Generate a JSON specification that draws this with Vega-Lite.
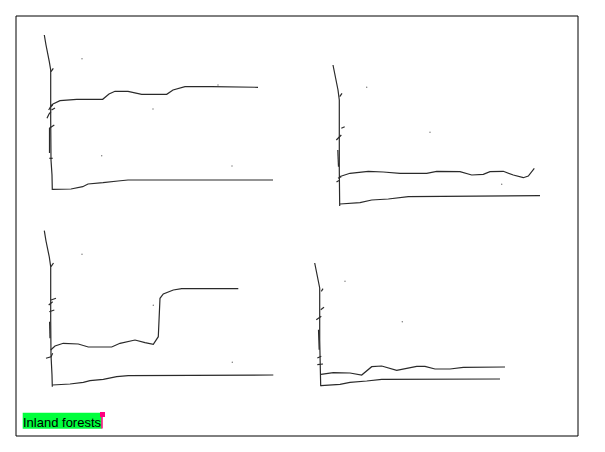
{
  "$schema": "https://vega.github.io/schema/vega-lite/v6.json",
  "width": 605,
  "height": 452,
  "autosize": {"type": "fit", "contains": "padding"},
  "padding": 0,
  "background": "white",
  "config": {"view": {"stroke": null}},
  "datasets": {
    "lines": [
      {"s": "p1v", "o": 1, "x": 44.3, "y": 35}, {"s": "p1v", "o": 2, "x": 46, "y": 45}, {"s": "p1v", "o": 3, "x": 49.3, "y": 61.7}, {"s": "p1v", "o": 4, "x": 50.7, "y": 70}, {"s": "p1v", "o": 5, "x": 50.7, "y": 120}, {"s": "p1v", "o": 6, "x": 51, "y": 160}, {"s": "p1v", "o": 7, "x": 52, "y": 175}, {"s": "p1v", "o": 8, "x": 52.3, "y": 190},
      {"s": "p1b", "o": 1, "x": 52.3, "y": 189.3}, {"s": "p1b", "o": 2, "x": 71, "y": 189}, {"s": "p1b", "o": 3, "x": 82.7, "y": 186.7}, {"s": "p1b", "o": 4, "x": 88, "y": 184}, {"s": "p1b", "o": 5, "x": 103, "y": 182.7}, {"s": "p1b", "o": 6, "x": 118, "y": 181}, {"s": "p1b", "o": 7, "x": 128, "y": 180}, {"s": "p1b", "o": 8, "x": 273, "y": 180},
      {"s": "p1u", "o": 1, "x": 50.7, "y": 106}, {"s": "p1u", "o": 2, "x": 53, "y": 104}, {"s": "p1u", "o": 3, "x": 60, "y": 100.7}, {"s": "p1u", "o": 4, "x": 76.7, "y": 99.3}, {"s": "p1u", "o": 5, "x": 102.7, "y": 99.3}, {"s": "p1u", "o": 6, "x": 109, "y": 94}, {"s": "p1u", "o": 7, "x": 115, "y": 91.3}, {"s": "p1u", "o": 8, "x": 128, "y": 91.3}, {"s": "p1u", "o": 9, "x": 141.7, "y": 94.3}, {"s": "p1u", "o": 10, "x": 166.7, "y": 94.3}, {"s": "p1u", "o": 11, "x": 173, "y": 90}, {"s": "p1u", "o": 12, "x": 185, "y": 86.7}, {"s": "p1u", "o": 13, "x": 211.7, "y": 86.7}, {"s": "p1u", "o": 14, "x": 258, "y": 87.3},
      {"s": "p1t1", "o": 1, "x": 51, "y": 71.7}, {"s": "p1t1", "o": 2, "x": 53.3, "y": 68.3},
      {"s": "p1t2", "o": 1, "x": 48.7, "y": 110}, {"s": "p1t2", "o": 2, "x": 50.5, "y": 107}, {"s": "p1t2", "o": 3, "x": 52.7, "y": 105},
      {"s": "p1t3", "o": 1, "x": 47, "y": 118.3}, {"s": "p1t3", "o": 2, "x": 49, "y": 114}, {"s": "p1t3", "o": 3, "x": 51, "y": 111.7},
      {"s": "p1t4", "o": 1, "x": 49.3, "y": 128.3}, {"s": "p1t4", "o": 2, "x": 54.3, "y": 125},
      {"s": "p1t5", "o": 1, "x": 49.5, "y": 128}, {"s": "p1t5", "o": 2, "x": 49.5, "y": 153},
      {"s": "p1t6", "o": 1, "x": 49.3, "y": 158.3}, {"s": "p1t6", "o": 2, "x": 52.7, "y": 158.3},
      {"s": "p1t7", "o": 1, "x": 51.5, "y": 110}, {"s": "p1t7", "o": 2, "x": 55, "y": 108},

      {"s": "p2v", "o": 1, "x": 333, "y": 65}, {"s": "p2v", "o": 2, "x": 338, "y": 90}, {"s": "p2v", "o": 3, "x": 339.3, "y": 100}, {"s": "p2v", "o": 4, "x": 339.3, "y": 170}, {"s": "p2v", "o": 5, "x": 339.7, "y": 206},
      {"s": "p2b", "o": 1, "x": 340, "y": 204}, {"s": "p2b", "o": 2, "x": 360, "y": 202.7}, {"s": "p2b", "o": 3, "x": 371.7, "y": 200}, {"s": "p2b", "o": 4, "x": 388.3, "y": 199}, {"s": "p2b", "o": 5, "x": 408.3, "y": 196.7}, {"s": "p2b", "o": 6, "x": 540, "y": 195.7},
      {"s": "p2u", "o": 1, "x": 339.3, "y": 176.7}, {"s": "p2u", "o": 2, "x": 350, "y": 173.3}, {"s": "p2u", "o": 3, "x": 368.3, "y": 171.3}, {"s": "p2u", "o": 4, "x": 383.3, "y": 172}, {"s": "p2u", "o": 5, "x": 400, "y": 173.3}, {"s": "p2u", "o": 6, "x": 426.7, "y": 173.3}, {"s": "p2u", "o": 7, "x": 436.7, "y": 171.3}, {"s": "p2u", "o": 8, "x": 460, "y": 171.7}, {"s": "p2u", "o": 9, "x": 471.7, "y": 175}, {"s": "p2u", "o": 10, "x": 483.3, "y": 174.3}, {"s": "p2u", "o": 11, "x": 490, "y": 171.7}, {"s": "p2u", "o": 12, "x": 503.3, "y": 171.3}, {"s": "p2u", "o": 13, "x": 513.3, "y": 175}, {"s": "p2u", "o": 14, "x": 523.3, "y": 177.7}, {"s": "p2u", "o": 15, "x": 528.3, "y": 176}, {"s": "p2u", "o": 16, "x": 534.3, "y": 168.3},
      {"s": "p2t1", "o": 1, "x": 339.7, "y": 96.7}, {"s": "p2t1", "o": 2, "x": 342, "y": 93.3},
      {"s": "p2t2", "o": 1, "x": 341.3, "y": 128.3}, {"s": "p2t2", "o": 2, "x": 344.7, "y": 126.7},
      {"s": "p2t3", "o": 1, "x": 336.3, "y": 140}, {"s": "p2t3", "o": 2, "x": 341.3, "y": 135},
      {"s": "p2t4", "o": 1, "x": 337.8, "y": 150}, {"s": "p2t4", "o": 2, "x": 338.5, "y": 166.7},
      {"s": "p2t5", "o": 1, "x": 338, "y": 178.3}, {"s": "p2t5", "o": 2, "x": 341.3, "y": 176.7},
      {"s": "p2t6", "o": 1, "x": 336.5, "y": 182}, {"s": "p2t6", "o": 2, "x": 339, "y": 180.5},

      {"s": "p3v", "o": 1, "x": 44.3, "y": 230.7}, {"s": "p3v", "o": 2, "x": 46, "y": 241}, {"s": "p3v", "o": 3, "x": 49.3, "y": 257}, {"s": "p3v", "o": 4, "x": 50.7, "y": 266.7}, {"s": "p3v", "o": 5, "x": 50.7, "y": 320}, {"s": "p3v", "o": 6, "x": 51, "y": 355}, {"s": "p3v", "o": 7, "x": 52, "y": 375}, {"s": "p3v", "o": 8, "x": 52.3, "y": 386.7},
      {"s": "p3b", "o": 1, "x": 52.3, "y": 385}, {"s": "p3b", "o": 2, "x": 70, "y": 384}, {"s": "p3b", "o": 3, "x": 83.3, "y": 382.3}, {"s": "p3b", "o": 4, "x": 90, "y": 380.7}, {"s": "p3b", "o": 5, "x": 103.3, "y": 379.3}, {"s": "p3b", "o": 6, "x": 116.7, "y": 376.7}, {"s": "p3b", "o": 7, "x": 128.3, "y": 375.7}, {"s": "p3b", "o": 8, "x": 273.3, "y": 375},
      {"s": "p3u", "o": 1, "x": 50.7, "y": 350}, {"s": "p3u", "o": 2, "x": 55, "y": 346}, {"s": "p3u", "o": 3, "x": 63.3, "y": 343.3}, {"s": "p3u", "o": 4, "x": 78.3, "y": 344}, {"s": "p3u", "o": 5, "x": 88.3, "y": 347}, {"s": "p3u", "o": 6, "x": 111.7, "y": 347}, {"s": "p3u", "o": 7, "x": 120, "y": 343.3}, {"s": "p3u", "o": 8, "x": 135, "y": 340}, {"s": "p3u", "o": 9, "x": 145, "y": 342.7}, {"s": "p3u", "o": 10, "x": 153.3, "y": 344.3}, {"s": "p3u", "o": 11, "x": 158.3, "y": 336.7}, {"s": "p3u", "o": 12, "x": 160, "y": 298.3}, {"s": "p3u", "o": 13, "x": 163.3, "y": 294}, {"s": "p3u", "o": 14, "x": 173.3, "y": 290}, {"s": "p3u", "o": 15, "x": 181.7, "y": 288.7}, {"s": "p3u", "o": 16, "x": 238.3, "y": 288.7},
      {"s": "p3t1", "o": 1, "x": 51, "y": 266.7}, {"s": "p3t1", "o": 2, "x": 53.5, "y": 263},
      {"s": "p3t2", "o": 1, "x": 51, "y": 300}, {"s": "p3t2", "o": 2, "x": 56, "y": 298.3},
      {"s": "p3t3", "o": 1, "x": 48.7, "y": 305}, {"s": "p3t3", "o": 2, "x": 52.7, "y": 301.7},
      {"s": "p3t4", "o": 1, "x": 49.3, "y": 311.7}, {"s": "p3t4", "o": 2, "x": 54.3, "y": 310},
      {"s": "p3t5", "o": 1, "x": 49.6, "y": 321.7}, {"s": "p3t5", "o": 2, "x": 50, "y": 338.3},
      {"s": "p3t6", "o": 1, "x": 46, "y": 358.3}, {"s": "p3t6", "o": 2, "x": 51, "y": 356.7}, {"s": "p3t6", "o": 3, "x": 52.7, "y": 353.3},

      {"s": "p4v", "o": 1, "x": 314.7, "y": 263}, {"s": "p4v", "o": 2, "x": 319.7, "y": 288}, {"s": "p4v", "o": 3, "x": 319.7, "y": 340}, {"s": "p4v", "o": 4, "x": 320.7, "y": 386.3},
      {"s": "p4b", "o": 1, "x": 321, "y": 385.7}, {"s": "p4b", "o": 2, "x": 340, "y": 384.3}, {"s": "p4b", "o": 3, "x": 350, "y": 382.3}, {"s": "p4b", "o": 4, "x": 366.7, "y": 381}, {"s": "p4b", "o": 5, "x": 381.7, "y": 379.3}, {"s": "p4b", "o": 6, "x": 500, "y": 379},
      {"s": "p4u", "o": 1, "x": 321, "y": 374.3}, {"s": "p4u", "o": 2, "x": 333.3, "y": 372.7}, {"s": "p4u", "o": 3, "x": 350, "y": 373}, {"s": "p4u", "o": 4, "x": 361.7, "y": 375}, {"s": "p4u", "o": 5, "x": 371.7, "y": 366.7}, {"s": "p4u", "o": 6, "x": 381.7, "y": 366}, {"s": "p4u", "o": 7, "x": 396.7, "y": 370.3}, {"s": "p4u", "o": 8, "x": 406.7, "y": 368.3}, {"s": "p4u", "o": 9, "x": 416.7, "y": 366.3}, {"s": "p4u", "o": 10, "x": 425, "y": 366.3}, {"s": "p4u", "o": 11, "x": 435, "y": 369}, {"s": "p4u", "o": 12, "x": 450, "y": 369}, {"s": "p4u", "o": 13, "x": 463.3, "y": 367.3}, {"s": "p4u", "o": 14, "x": 505, "y": 367},
      {"s": "p4t1", "o": 1, "x": 321.3, "y": 291.3}, {"s": "p4t1", "o": 2, "x": 323, "y": 288.7},
      {"s": "p4t2", "o": 1, "x": 320.7, "y": 309.7}, {"s": "p4t2", "o": 2, "x": 324, "y": 307.3},
      {"s": "p4t3", "o": 1, "x": 316.3, "y": 319.7}, {"s": "p4t3", "o": 2, "x": 321.3, "y": 316.3},
      {"s": "p4t4", "o": 1, "x": 318.5, "y": 329.7}, {"s": "p4t4", "o": 2, "x": 319.2, "y": 349.7},
      {"s": "p4t5", "o": 1, "x": 317.3, "y": 358}, {"s": "p4t5", "o": 2, "x": 321.3, "y": 356.3},
      {"s": "p4t6", "o": 1, "x": 317.3, "y": 364.7}, {"s": "p4t6", "o": 2, "x": 323, "y": 364}
    ],
    "dots": [
      {"x": 82, "y": 58.7}, {"x": 153, "y": 109}, {"x": 101.7, "y": 155.7}, {"x": 232, "y": 166}, {"x": 218, "y": 85},
      {"x": 366.7, "y": 87.3}, {"x": 430, "y": 132.3}, {"x": 501.7, "y": 184.3},
      {"x": 82, "y": 254.3}, {"x": 153.3, "y": 305.3}, {"x": 232.3, "y": 362.3},
      {"x": 345, "y": 281.3}, {"x": 402.3, "y": 321.7}
    ],
    "frame": [{"x": 16, "x2": 578, "y": 16, "y2": 436}],
    "label": [{"x": 22.7, "x2": 101.7, "y": 412.7, "y2": 428.7, "tx": 23, "ty": 426.5, "text": "Inland forests"}],
    "marker": [{"x": 100, "x2": 105, "y": 412, "y2": 417, "lx": 102, "ly": 416, "ly2": 428.5}]
  },
  "layer": [
    {
      "data": {"name": "frame"},
      "mark": {"type": "rect", "fill": null, "stroke": "black", "strokeWidth": 1},
      "encoding": {
        "x": {"field": "x", "type": "quantitative", "scale": {"domain": [0, 605], "nice": false, "zero": false}, "axis": null},
        "x2": {"field": "x2"},
        "y": {"field": "y", "type": "quantitative", "scale": {"domain": [0, 452], "nice": false, "zero": false, "reverse": true}, "axis": null},
        "y2": {"field": "y2"}
      }
    },
    {
      "data": {"name": "lines"},
      "mark": {"type": "line", "stroke": "#2a2a2a", "strokeWidth": 1.2, "interpolate": "linear"},
      "encoding": {
        "x": {"field": "x", "type": "quantitative"},
        "y": {"field": "y", "type": "quantitative"},
        "detail": {"field": "s"},
        "order": {"field": "o"}
      }
    },
    {
      "data": {"name": "dots"},
      "mark": {"type": "point", "filled": true, "size": 2, "color": "#777", "opacity": 1},
      "encoding": {
        "x": {"field": "x", "type": "quantitative"},
        "y": {"field": "y", "type": "quantitative"}
      }
    },
    {
      "data": {"name": "label"},
      "mark": {"type": "rect", "fill": "#00ff3c"},
      "encoding": {
        "x": {"field": "x", "type": "quantitative"},
        "x2": {"field": "x2"},
        "y": {"field": "y", "type": "quantitative"},
        "y2": {"field": "y2"}
      }
    },
    {
      "data": {"name": "label"},
      "mark": {"type": "text", "align": "left", "baseline": "alphabetic", "font": "Liberation Sans", "fontSize": 13, "color": "black"},
      "encoding": {
        "x": {"field": "tx", "type": "quantitative"},
        "y": {"field": "ty", "type": "quantitative"},
        "text": {"field": "text"}
      }
    },
    {
      "data": {"name": "marker"},
      "mark": {"type": "rect", "fill": "#ff0080"},
      "encoding": {
        "x": {"field": "x", "type": "quantitative"},
        "x2": {"field": "x2"},
        "y": {"field": "y", "type": "quantitative"},
        "y2": {"field": "y2"}
      }
    },
    {
      "data": {"name": "marker"},
      "mark": {"type": "rule", "stroke": "#ff0080", "strokeWidth": 1.5},
      "encoding": {
        "x": {"field": "lx", "type": "quantitative"},
        "y": {"field": "ly", "type": "quantitative"},
        "y2": {"field": "ly2"}
      }
    }
  ]
}
